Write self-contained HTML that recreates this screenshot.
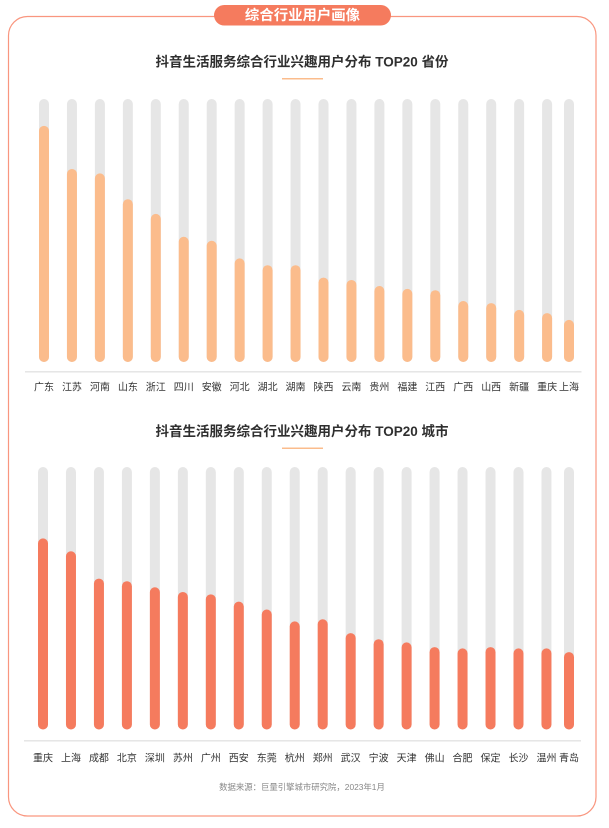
<!DOCTYPE html>
<html lang="zh-CN">
<head>
<meta charset="utf-8">
<title>综合行业用户画像</title>
<style>
html,body{margin:0;padding:0;background:#fff;}
body{width:609px;height:828px;overflow:hidden;font-family:"Liberation Sans","Noto Sans CJK SC",sans-serif;}
svg{display:block;}
text{font-family:"Liberation Sans","Noto Sans CJK SC",sans-serif;}
</style>
</head>
<body>
<svg id="page" width="609" height="828" viewBox="0 0 609 828" xmlns="http://www.w3.org/2000/svg">
  <rect x="8.5" y="16.5" width="587.5" height="799.5" rx="19" fill="#fff" stroke="#f9967f" stroke-width="1.2"/>
  <rect x="214" y="5" width="177" height="20.5" rx="10.25" fill="#f57b5e"/>
  <text x="302.5" y="20" text-anchor="middle" font-size="14.4" font-weight="700" fill="#fff">综合行业用户画像</text>

  <text x="302" y="66.5" text-anchor="middle" font-size="13.5" font-weight="700" fill="#2f2f2f">抖音生活服务综合行业兴趣用户分布 TOP20 省份</text>
  <rect x="282" y="78" width="41" height="1.5" fill="#fbbc8c"/>
  <g id="province-chart"></g>

  <text x="302" y="436" text-anchor="middle" font-size="13.5" font-weight="700" fill="#2f2f2f">抖音生活服务综合行业兴趣用户分布 TOP20 城市</text>
  <rect x="282" y="447.5" width="41" height="1.5" fill="#fbbc8c"/>
  <g id="city-chart"></g>

  <text x="302" y="790" text-anchor="middle" font-size="8.4" fill="#888">数据来源：巨量引擎城市研究院，2023年1月</text>
</svg>
<script>
const provinceLabels = ['广东','江苏','河南','山东','浙江','四川','安徽','河北','湖北','湖南','陕西','云南','贵州','福建','江西','广西','山西','新疆','重庆','上海'];
const provinceValues = [89.8,73.4,71.7,61.9,56.3,47.6,46.1,39.4,36.8,36.8,32.1,31.2,28.9,27.8,27.3,23.2,22.4,19.8,18.6,16.0];
const cityLabels = ['重庆','上海','成都','北京','深圳','苏州','广州','西安','东莞','杭州','郑州','武汉','宁波','天津','佛山','合肥','保定','长沙','温州','青岛'];
const cityValues = [72.8,67.9,57.5,56.5,54.2,52.4,51.5,48.7,45.7,41.2,42.0,36.7,34.4,33.2,31.4,30.9,31.4,30.9,30.9,29.5];

const SVG_NS = 'http://www.w3.org/2000/svg';

function drawChart(group, labels, values, cfg) {
  const maxValue = 100;
  const xScale = function (i) {
    return i === labels.length - 1 ? cfg.lastX : cfg.firstX + cfg.step * i;
  };
  const yScale = function (v) {
    return cfg.bottom - (v / maxValue) * (cfg.bottom - cfg.top);
  };
  labels.forEach(function (label, i) {
    const cx = xScale(i);

    const track = document.createElementNS(SVG_NS, 'rect');
    
    
    track.setAttribute('x', cx - 5);
    track.setAttribute('y', yScale(maxValue));
    track.setAttribute('width', 10);
    track.setAttribute('height', yScale(0) - yScale(maxValue));
    track.setAttribute('rx', 5);
    track.setAttribute('fill', '#e6e6e6');
    group.appendChild(track);

    const bar = document.createElementNS(SVG_NS, 'rect');
    
    
    bar.setAttribute('x', cx - 5);
    bar.setAttribute('y', yScale(values[i]));
    bar.setAttribute('width', 10);
    bar.setAttribute('height', yScale(0) - yScale(values[i]));
    bar.setAttribute('rx', 5);
    bar.setAttribute('fill', cfg.color);
    group.appendChild(bar);

    const tick = document.createElementNS(SVG_NS, 'text');
    
    
    tick.setAttribute('x', cx);
    tick.setAttribute('y', cfg.labelY);
    tick.setAttribute('text-anchor', 'middle');
    tick.setAttribute('font-size', 10);
    tick.setAttribute('fill', '#333');
    tick.textContent = label;
    group.appendChild(tick);
  });

  const axis = document.createElementNS(SVG_NS, 'line');
  
  
  axis.setAttribute('x1', cfg.axisLeft);
  axis.setAttribute('x2', cfg.axisRight);
  axis.setAttribute('y1', cfg.axisY);
  axis.setAttribute('y2', cfg.axisY);
  axis.setAttribute('stroke', '#e3e3e3');
  axis.setAttribute('stroke-width', 1.3);
  group.appendChild(axis);
}

drawChart(document.getElementById('province-chart'), provinceLabels, provinceValues, {
  firstX: 44, step: 27.95, lastX: 569, top: 99, bottom: 362,
  color: '#fbbc8c', labelY: 390.5, axisY: 371.8, axisLeft: 25, axisRight: 581.5
});
drawChart(document.getElementById('city-chart'), cityLabels, cityValues, {
  firstX: 43, step: 27.97, lastX: 569, top: 467, bottom: 729.5,
  color: '#f57b5e', labelY: 761.5, axisY: 740.8, axisLeft: 24, axisRight: 581
});
</script>
</body>
</html>
